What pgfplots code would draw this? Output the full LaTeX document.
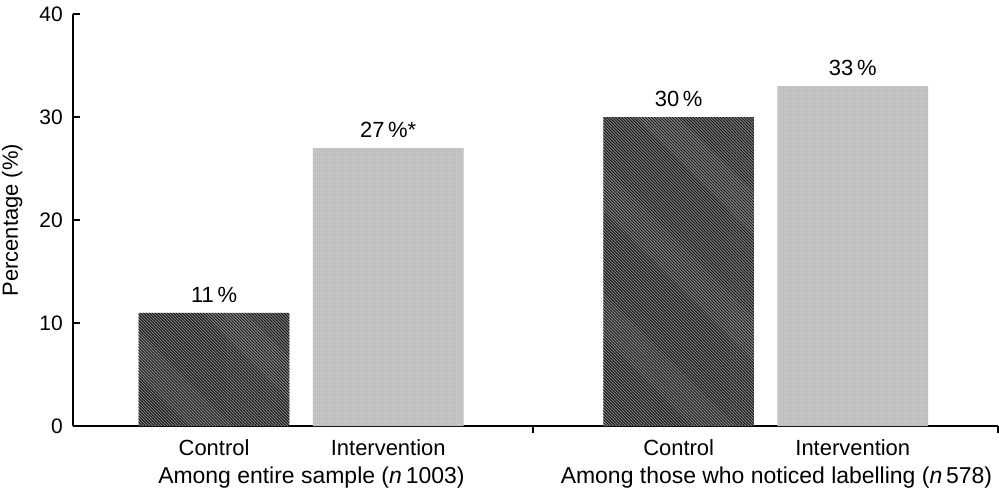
\documentclass[border=0pt]{standalone}
\usepackage{fontspec}
\setmainfont{Liberation Sans}
\usepackage{pgfplots}
\pgfplotsset{compat=1.18}
\usetikzlibrary{patterns}

% dense diagonal hatch for the control bars
\pgfdeclarepatternformonly{densehatch}{\pgfqpoint{-0.1pt}{-0.1pt}}{\pgfqpoint{1.6pt}{1.6pt}}{\pgfqpoint{1.5pt}{1.5pt}}{
  \pgfsetlinewidth{0.5pt}
  \pgfpathmoveto{\pgfqpoint{-0.1pt}{1.6pt}}
  \pgfpathlineto{\pgfqpoint{1.6pt}{-0.1pt}}
  \pgfusepath{stroke}
}
% fine dots for the intervention bars
\pgfdeclarepatternformonly{densedots}{\pgfqpoint{0pt}{0pt}}{\pgfqpoint{1.2pt}{1.2pt}}{\pgfqpoint{1.2pt}{1.2pt}}{
  \pgfpathcircle{\pgfqpoint{0.6pt}{0.6pt}}{0.3pt}
  \pgfusepath{fill}
}

\begin{document}
\begin{tikzpicture}
\begin{axis}[
  width=463.5pt, height=206.5pt, scale only axis,
  xmin=0, xmax=927, ymin=0, ymax=40,
  axis lines*=left,
  axis line style={line width=1pt},
  tick style={line width=1pt, black},
  tick align=inside,
  major tick length=3.5pt,
  ytick={0,10,20,30,40},
  xtick={141.5,316,607,781.5},
  xticklabels={Control,Intervention,Control,Intervention},
  major x tick style={draw=none},
  extra x ticks={461,927},
  extra x tick labels={},
  extra x tick style={major x tick style={draw=black, line width=1pt}, xticklabel style={overlay}},
  ylabel={Percentage (\%)},
  ylabel style={font=\fontsize{11}{13}\selectfont, inner sep=1pt, yshift=4pt},
  font=\fontsize{11}{13}\selectfont,
  yticklabel style={font=\fontsize{10.5}{12}\selectfont, xshift=-1.5pt},
  xticklabel style={font=\fontsize{11}{13}\selectfont, yshift=0.5pt},
  /pgf/number format/assume math mode=true,
  ybar, bar width=151, bar shift=0pt,
  point meta=explicit symbolic,
  nodes near coords,
  nodes near coords style={font=\fontsize{11}{13}\selectfont, inner sep=0.5pt, yshift=4.5pt},
  clip=false,
]
\addplot[draw=none, fill=black!45, postaction={pattern=densehatch, pattern color=black!90}]
  coordinates {(141.5,11) [11\,\%] (607,30) [30\,\%]};
\addplot[draw=none, fill=black!18, postaction={pattern=densedots, pattern color=black!65}]
  coordinates {(316,27) [27\,\%*] (781.5,33) [33\,\%]};
\node[anchor=north, font=\fontsize{11.5}{13}\selectfont, inner sep=1pt] at (axis cs:239,0) [yshift=-19pt] {Among entire sample (\textit{n}\,1003)};
\node[anchor=north, font=\fontsize{11.5}{13}\selectfont, inner sep=1pt] at (axis cs:705,0) [yshift=-19pt] {Among those who noticed labelling (\textit{n}\,578)};
\end{axis}
\end{tikzpicture}
\end{document}
